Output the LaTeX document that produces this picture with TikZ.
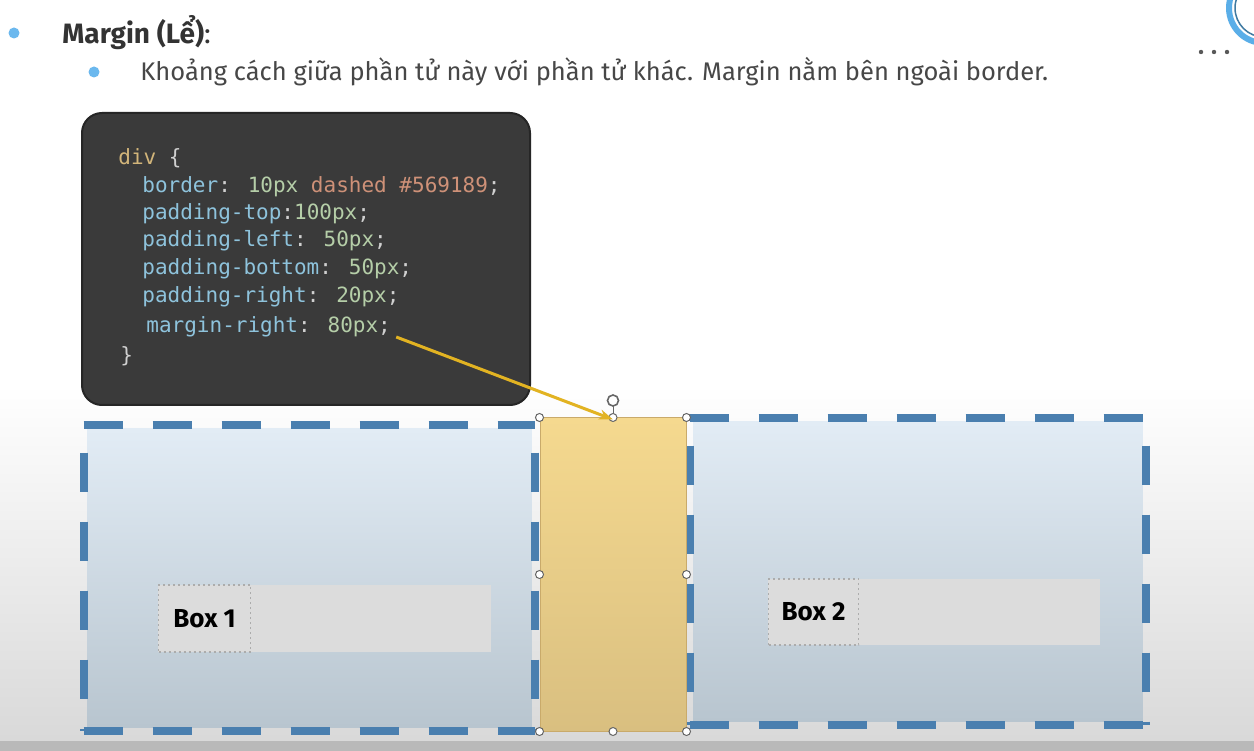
\documentclass[tikz,border=0pt]{standalone}
\usepackage{fontspec}
\usetikzlibrary{positioning, arrows.meta}

\newfontfamily\slidefont{Fira Sans}
\newfontfamily\codefont{DejaVu Sans Mono}

\definecolor{titlegray}{HTML}{333333}
\definecolor{bulletblue}{HTML}{6BB8EE}
\definecolor{codebg}{HTML}{3A3A3A}
\definecolor{csstag}{HTML}{D2B57A}
\definecolor{cssprop}{HTML}{8EC3DC}
\definecolor{cssnum}{HTML}{B5CEA8}
\definecolor{cssstr}{HTML}{CE9178}
\definecolor{csspunct}{HTML}{D0D0D0}
\definecolor{borderblue}{HTML}{4A7FAF}
\definecolor{boxtop}{HTML}{E2ECF5}
\definecolor{boxbot}{HTML}{B8C5CF}
\definecolor{margintop}{HTML}{F5D98F}
\definecolor{marginbot}{HTML}{D9BF80}
\definecolor{marginedge}{HTML}{C9AA6A}
\definecolor{arrowgold}{HTML}{E2B322}
\definecolor{stripfill}{HTML}{DCDCDC}
\definecolor{ringblue}{HTML}{5AAEE8}

\tikzset{
    cssborder/.style={draw=borderblue, line width=8pt, dash pattern=on 39pt off 30pt},
    cssside/.style={cssborder, dash phase=41pt},
    codeline/.style={anchor=west, inner sep=0, font=\codefont\fontsize{21}{24}\selectfont},
    labelbox/.style={draw=gray!65, line width=1.2pt, dash pattern=on 2pt off 3pt,
        fill=stripfill, minimum width=92pt, minimum height=67pt, inner sep=0,
        font=\slidefont\bfseries\fontsize{26}{30}\selectfont},
    handle/.style={draw=gray!80!black, fill=white, line width=1pt}
}

\begin{document}
\begin{tikzpicture}[x=1pt, y=-1pt, >={Stealth[length=14pt, width=10pt]}, thick]
    \useasboundingbox (0,0) rectangle (1254,751);

    % fundo do slide
    \fill[white] (0,0) rectangle (1254,751);
    \shade[top color=white, middle color=gray!14, bottom color=gray!30] (0,385) rectangle (1254,741);
    \fill[gray!55] (0,741) rectangle (1254,751);

    % anel no canto
    \begin{scope}
        \clip (1150,0) rectangle (1254,80);
        \draw[ringblue, line width=6pt] (1264,8) circle (35);
        \draw[ringblue!70!black, line width=1.5pt] (1264,8) circle (29);
    \end{scope}
    \fill[gray!70!black] (1201,52) circle (2.2) (1214,52) circle (2.2) (1227,52) circle (2.2);

    % titulo e texto
    \fill[bulletblue] (14,33) circle (5.5);
    \node [anchor=west, inner sep=0, text=titlegray,
        font=\slidefont\fontsize{28}{30}\selectfont
    ] (titulo) at (62,33) {\textbf{Margin (Lể)}:};

    \fill[bulletblue] (94,72) circle (5.5);
    \node [anchor=west, inner sep=0, text=titlegray!90,
        font=\slidefont\fontsize{25.5}{28}\selectfont
    ] (texto) at (140,72) {Khoảng cách giữa phần tử này với phần tử khác. Margin nằm bên ngoài border.};

    % bloco de codigo
    \node [draw=black!85,
        line width=2pt,
        fill=codebg,
        rounded corners=20pt,
        minimum width=448pt,
        minimum height=292pt
    ] (codigo) at (306,259) {};

    \node [codeline] (div) at (118,158) {\color{csstag}div \color{csspunct}\{};
    \node [codeline] (borda) at (142,187) {\color{cssprop}border\color{csspunct}: \color{cssnum}10px \color{cssstr}dashed \#569189\color{csspunct};};
    \node [codeline] (ptop) at (142,214) {\color{cssprop}padding-top\color{csspunct}:\color{cssnum}100px\color{csspunct};};
    \node [codeline] (pleft) at (142,241) {\color{cssprop}padding-left\color{csspunct}: \color{cssnum}50px\color{csspunct};};
    \node [codeline] (pbottom) at (142,269) {\color{cssprop}padding-bottom\color{csspunct}: \color{cssnum}50px\color{csspunct};};
    \node [codeline] (pright) at (142,297) {\color{cssprop}padding-right\color{csspunct}: \color{cssnum}20px\color{csspunct};};
    \node [codeline] (mright) at (146,327) {\color{cssprop}margin-right\color{csspunct}: \color{cssnum}80px\color{csspunct};};
    \node [codeline] (fecha) at (120,356) {\color{csspunct}\}};

    % caixas
    \node [minimum width=451pt, minimum height=306pt, inner sep=0] (box1) at (309.5,578) {};
    \node [minimum width=456pt, minimum height=307pt, inner sep=0] (box2) at (918,571.5) {};

    \shade[top color=boxtop, bottom color=boxbot]
        ([shift={(4,4)}]box1.north west) rectangle ([shift={(-4,-4)}]box1.south east);
    \shade[top color=boxtop, bottom color=boxbot]
        ([shift={(4,4)}]box2.north west) rectangle ([shift={(-4,-4)}]box2.south east);

    % bordas tracejadas
    \draw[cssborder] (box1.north west) -- (box1.north east);
    \draw[cssborder] (box1.south west) -- (box1.south east);
    \draw[cssside] (box1.north west) -- (box1.south west);
    \draw[cssside] (box1.north east) -- (box1.south east);
    \draw[cssborder] (box2.north west) -- (box2.north east);
    \draw[cssborder] (box2.south west) -- (box2.south east);
    \draw[cssside] (box2.north west) -- (box2.south west);
    \draw[cssside] (box2.north east) -- (box2.south east);

    % conteudo das caixas
    \node [fill=stripfill, minimum width=333pt, minimum height=67pt, inner sep=0,
        anchor=west] (faixa1) at (158,618.5) {};
    \node [labelbox, anchor=west] (rotulo1) at (158,618.5) {Box 1};
    \node [fill=stripfill, minimum width=332pt, minimum height=66pt, inner sep=0,
        anchor=west] (faixa2) at (768,612) {};
    \node [labelbox, minimum width=90pt, minimum height=66pt, anchor=west] (rotulo2) at (768,612) {Box 2};

    % margem
    \node [draw=marginedge,
        line width=1pt,
        top color=margintop,
        bottom color=marginbot,
        minimum width=146pt,
        minimum height=313pt,
        inner sep=0
    ] (margem) at (613,574.5) {};

    % alcas de selecao
    \draw[gray!80!black, line width=1pt] (margem.north) -- ++(0,-17) coordinate (giro);
    \draw[handle, line width=1.6pt] (giro) circle (5.5);
    \draw[handle]
        (margem.north west) circle (4) (margem.north) circle (4) (margem.north east) circle (4)
        (margem.west) circle (4) (margem.east) circle (4)
        (margem.south west) circle (4) (margem.south) circle (4) (margem.south east) circle (4);

    % seta
    \draw[->, arrowgold, line width=3pt] ([shift={(5,10)}]mright.east) -- ([yshift=-2pt]margem.north);

\end{tikzpicture}
\end{document}
